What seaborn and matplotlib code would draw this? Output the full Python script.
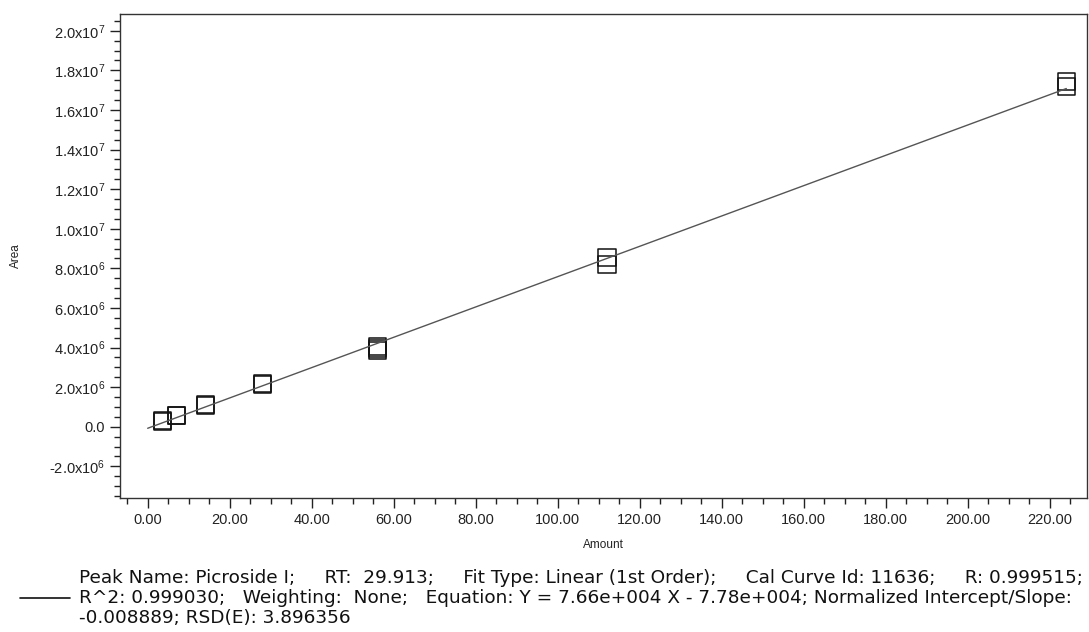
import numpy as np
import pandas as pd
import matplotlib
matplotlib.use('Agg')
import matplotlib.pyplot as plt
import seaborn as sns
from matplotlib.ticker import MultipleLocator, FuncFormatter

sns.set_style("white")
plt.rcParams['font.family'] = ['Liberation Sans', 'DejaVu Sans']
plt.rcParams['mathtext.fontset'] = 'custom'
plt.rcParams['mathtext.rm'] = 'Liberation Sans'
plt.rcParams['mathtext.default'] = 'regular'

# calibration standards (replicate injections per level)
amount = [3.5, 3.5, 7.0, 7.0, 14.0, 14.0, 28.0, 28.0,
          56.0, 56.0, 56.0, 112.0, 112.0, 224.0, 224.0]
area = [0.25e6, 0.30e6, 0.55e6, 0.58e6, 1.10e6, 1.05e6, 2.20e6, 2.15e6,
        4.05e6, 3.95e6, 3.85e6, 8.55e6, 8.20e6, 1.742e7, 1.717e7]

# fitted line end points (Y = 7.66e4 X - 7.78e4)
fit_x = [0.0, 224.0]
fit_y = [-7.78e4, 1.7081e7]

legend_lines = [
    "Peak Name: Picroside I;     RT:  29.913;     Fit Type: Linear (1st Order);     "
    "Cal Curve Id: 11636;     R: 0.999515;",
    "R^2: 0.999030;   Weighting:  None;   Equation: Y = 7.66e+004 X - 7.78e+004; "
    "Normalized Intercept/Slope:",
    "-0.008889; RSD(E): 3.896356",
]

pts = pd.DataFrame({'Amount': amount, 'Area': area})
fit = pd.DataFrame({'Amount': fit_x, 'Area': fit_y})

fig = plt.figure(figsize=(10.89, 6.32), dpi=100)
ax = fig.add_axes([0.110, 0.212, 0.888, 0.766])

sns.lineplot(data=fit, x='Amount', y='Area', color='#555555', linewidth=1.0, ax=ax)
sns.scatterplot(data=pts, x='Amount', y='Area', marker='s', s=150,
                facecolor='none', edgecolor='#111111', linewidth=1.1, ax=ax)

ax.set_xlim(-6.8, 229)
ax.set_ylim(-3.6e6, 2.085e7)

ax.xaxis.set_major_locator(MultipleLocator(20))
ax.xaxis.set_minor_locator(MultipleLocator(5))
ax.yaxis.set_major_locator(MultipleLocator(2e6))
ax.yaxis.set_minor_locator(MultipleLocator(5e5))
ax.xaxis.set_major_formatter(FuncFormatter(lambda v, p: f"{v:.2f}"))


def yfmt(v, p):
    if abs(v) < 1:
        return "0.0"
    e = int(np.floor(np.log10(abs(v))))
    m = v / 10 ** e
    return f"{m:.1f}x10$^{{{e}}}$"


ax.yaxis.set_major_formatter(FuncFormatter(yfmt))

ax.tick_params(axis='both', which='major', direction='out', length=7, width=1,
               color='#222222', labelsize=10.5, labelcolor='#222222',
               bottom=True, left=True)
ax.tick_params(axis='both', which='minor', direction='out', length=4, width=1,
               color='#222222', bottom=True, left=True)
for s in ax.spines.values():
    s.set_color('#333333')
    s.set_linewidth(1.0)

ax.set_xlabel('Amount', fontsize=8.5, color='#222222')
ax.xaxis.set_label_coords(0.5, -0.084)
ax.set_ylabel('Area', fontsize=8.5, color='#222222')
ax.yaxis.set_label_coords(-0.101, 0.5)

# legend block at the bottom
fig.add_artist(plt.Line2D([20 / 1089, 70 / 1089], [1 - 598 / 632, 1 - 598 / 632],
                          color='#111111', linewidth=1.2))
for i, line in enumerate(legend_lines):
    fig.text(79 / 1089, 1 - (578 + 20 * i) / 632, line, fontsize=13.3,
             family=['DejaVu Sans'], color='#111111', va='center', ha='left')

fig.savefig('out.png', dpi=100)
